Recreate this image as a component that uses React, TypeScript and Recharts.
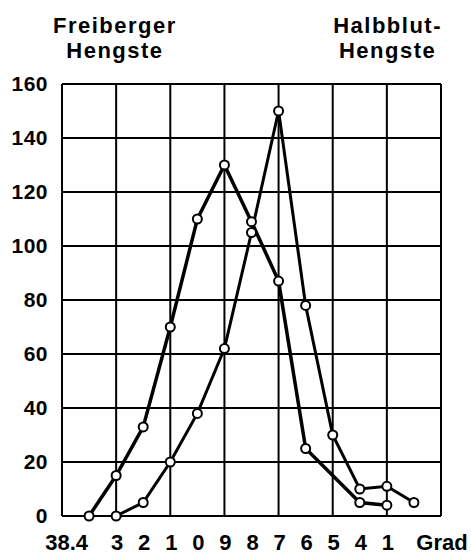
import { LineChart, Line, XAxis, YAxis, CartesianGrid } from 'recharts'

// Körpertemperatur (°C), Kategorien von links nach rechts
const tempLabels = ['38.4', '3', '2', '1', '0', '9', '8', '7', '6', '5', '4', '1', '']
const freiberger = [0, 15, 33, 70, 110, 130, 109, 87, 25, null, 5, 4, null]
const halbblut = [null, 0, 5, 20, 38, 62, 105, 150, 78, 30, 10, 11, 5]
const yTicks = [0, 20, 40, 60, 80, 100, 120, 140, 160]
const gridTicks = [0, 2, 4, 6, 8, 10, 12, 14]
const xTicks = [1, 2, 3, 4, 5, 6, 7, 8, 9, 10, 11, 12, 14]

const data = tempLabels.map((label, i) => ({
  x: i + 1,
  label,
  freiberger: freiberger[i],
  halbblut: halbblut[i],
}))

const font = '"Liberation Sans", Arial, sans-serif'

function XTick({ x, y, payload }: any) {
  const v = payload.value
  const text = v === 14 ? 'Grad' : tempLabels[v - 1]
  return (
    <text
      x={v === 1 ? x - 1 : x + 1}
      y={y}
      dy="0.71em"
      textAnchor={v === 1 ? 'end' : 'middle'}
      fontFamily={font}
      fontWeight="bold"
      fontSize={22}
      fill="#000"
    >
      {text}
    </text>
  )
}

const dot = { r: 4.5, fill: '#fff', stroke: '#000', strokeWidth: 2 }

const titleStyle = {
  position: 'absolute' as const,
  top: 13,
  fontFamily: font,
  fontWeight: 'bold',
  fontSize: 22,
  letterSpacing: 1.5,
  lineHeight: '25px',
  textAlign: 'center' as const,
}

export default function App() {
  return (
    <div style={{ position: 'absolute', left: 0, top: 0, width: 471, height: 554, background: '#fff' }}>
      <div style={{ ...titleStyle, left: 53 }}>
        Freiberger
        <br />
        Hengste
      </div>
      <div style={{ ...titleStyle, right: 29 }}>
        Halbblut-
        <br />
        Hengste
      </div>
      <LineChart
        width={471}
        height={554}
        data={data}
        margin={{ top: 84, right: 30, bottom: 0, left: 0 }}
        style={{ position: 'absolute', left: 0, top: 0 }}
      >
        <XAxis xAxisId="grid" type="number" dataKey="x" domain={[0, 14]} ticks={gridTicks} hide />
        <XAxis
          type="number"
          dataKey="x"
          domain={[0, 14]}
          ticks={xTicks}
          interval={0}
          axisLine={false}
          tickLine={false}
          tickSize={0}
          tickMargin={18}
          height={38}
          tick={<XTick />}
        />
        <YAxis
          domain={[0, 160]}
          ticks={yTicks}
          interval={0}
          axisLine={false}
          tickLine={false}
          tickSize={0}
          tickMargin={14}
          width={62}
          tick={{ fontFamily: font, fontWeight: 'bold', fontSize: 21, fill: '#000', letterSpacing: 0.5 }}
        />
        <CartesianGrid xAxisId="grid" stroke="#000" strokeWidth={2} />
        <Line
          type="linear"
          dataKey="freiberger"
          stroke="#000"
          strokeWidth={3.5}
          dot={dot}
          connectNulls
          isAnimationActive={false}
        />
        <Line
          type="linear"
          dataKey="halbblut"
          stroke="#000"
          strokeWidth={3}
          dot={dot}
          connectNulls
          isAnimationActive={false}
        />
      </LineChart>
    </div>
  )
}
